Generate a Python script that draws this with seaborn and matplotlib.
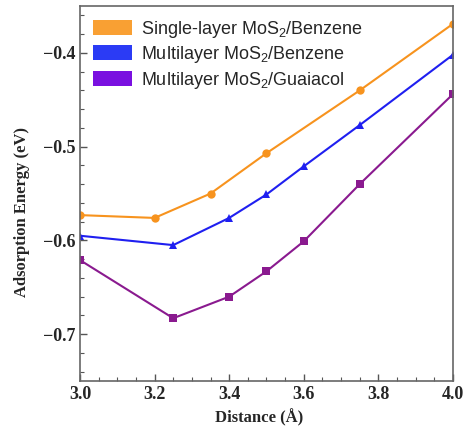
import matplotlib
matplotlib.use("Agg")
import matplotlib.pyplot as plt
import seaborn as sns
import pandas as pd
from matplotlib.patches import Patch
from matplotlib.ticker import MultipleLocator

# Data
x_single = [3.0, 3.2, 3.35, 3.5, 3.75, 4.0]
y_single = [-0.573, -0.576, -0.550, -0.507, -0.440, -0.369]
x_multi_benz = [3.0, 3.25, 3.4, 3.5, 3.6, 3.75, 4.0]
y_multi_benz = [-0.595, -0.605, -0.576, -0.551, -0.521, -0.477, -0.402]
x_multi_guai = [3.0, 3.25, 3.4, 3.5, 3.6, 3.75, 4.0]
y_multi_guai = [-0.621, -0.683, -0.660, -0.633, -0.601, -0.540, -0.444]
labels = ["Single-layer MoS$_2$/Benzene", "Multilayer MoS$_2$/Benzene", "Multilayer MoS$_2$/Guaiacol"]
x_ticks = [3.0, 3.2, 3.4, 3.6, 3.8, 4.0]
y_ticks = [-0.7, -0.6, -0.5, -0.4]

sns.set_style("white")
plt.rcParams['font.family'] = ['Liberation Serif', 'DejaVu Serif']
plt.rcParams['mathtext.fontset'] = 'custom'
plt.rcParams['mathtext.rm'] = 'Liberation Sans'

line_colors = ["#F7931E", "#1F1FF0", "#8A1A8F"]
patch_colors = ["#F9A033", "#2B3BF5", "#7A10E0"]
markers = ["o", "^", "s"]
msizes = [6, 5.5, 6]

fig, ax = plt.subplots(figsize=(4.65, 4.33), dpi=100)
fig.subplots_adjust(left=0.172, right=0.974, top=0.986, bottom=0.12)

series = [(x_single, y_single), (x_multi_benz, y_multi_benz), (x_multi_guai, y_multi_guai)]
for (xs, ys), lab, c, m, ms in zip(series, labels, line_colors, markers, msizes):
    df = pd.DataFrame({"x": xs, "y": ys})
    sns.lineplot(data=df, x="x", y="y", ax=ax, color=c, marker=m, markersize=ms,
                 markeredgewidth=0, linewidth=1.5, legend=False)

ax.set_xlim(3.0, 4.0)
ax.set_ylim(-0.75, -0.35)
ax.set_xticks(x_ticks)
ax.set_yticks(y_ticks)
ax.set_xticklabels([f"{v:.1f}" for v in x_ticks])
ax.set_yticklabels([f"\u2212{abs(v):.1f}" for v in y_ticks])
ax.xaxis.set_minor_locator(MultipleLocator(0.05))
ax.yaxis.set_minor_locator(MultipleLocator(0.02))
ax.tick_params(axis="both", which="major", direction="in", length=5, width=1, color="#555555",
               labelsize=13, bottom=True, left=True, top=False, right=False)
ax.tick_params(axis="both", which="minor", direction="in", length=3, width=0.8, color="#555555",
               bottom=True, left=True, top=False, right=False)
for lab in ax.get_xticklabels() + ax.get_yticklabels():
    lab.set_fontweight("bold")
for sp in ax.spines.values():
    sp.set_color("#666666")
    sp.set_linewidth(1.2)

ax.set_xlabel("Distance (Å)", fontsize=12, fontweight="bold")
ax.set_ylabel("Adsorption Energy (eV)", fontsize=12, fontweight="bold")
ax.xaxis.set_label_coords(0.48, -0.075)
ax.yaxis.set_label_coords(-0.135, 0.45)

handles = [Patch(facecolor=c, edgecolor="none") for c in patch_colors]
leg = ax.legend(handles, labels, loc="upper left", frameon=False,
                prop={"family": "Liberation Sans", "size": 13},
                handlelength=2.2, handleheight=0.9, handletextpad=0.5,
                labelspacing=0.25, borderaxespad=0.3, bbox_to_anchor=(0.0, 1.0))

fig.savefig("out.png", dpi=100)
